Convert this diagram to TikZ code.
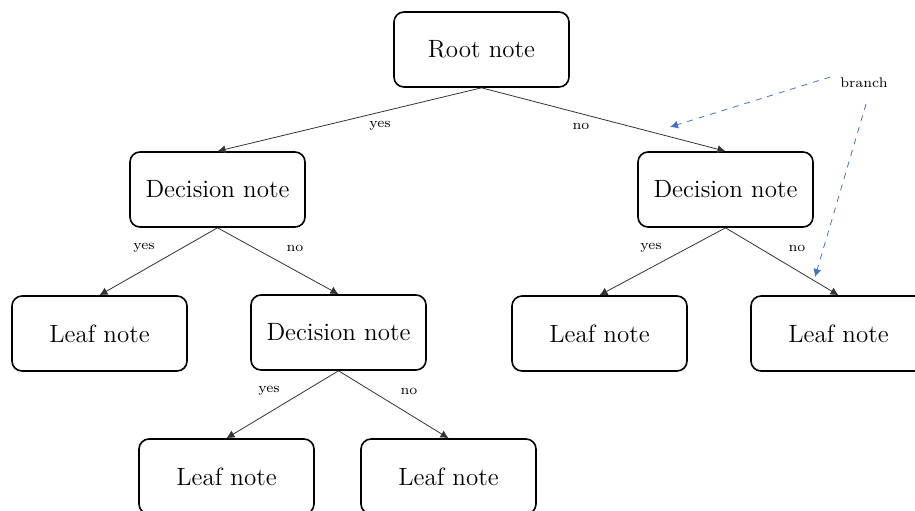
\documentclass[tikz,border=0pt]{standalone}
\usetikzlibrary{arrows.meta}
\definecolor{branchblue}{RGB}{68,114,196}
\tikzset{
  box/.style={draw, rounded corners=5pt, line width=0.8pt, minimum width=87.5pt, minimum height=37.5pt, font=\fontsize{12.5}{14}\selectfont},
  edge/.style={-{Latex[length=4pt,width=4pt]}, black!80},
  lbl/.style={font=\fontsize{7}{8}\selectfont},
  pointer/.style={dashed, -{Latex[length=4pt,width=4pt]}, branchblue, thin}
}
\begin{document}
\begin{tikzpicture}[x=0.5pt,y=-0.5pt]
\useasboundingbox (0,0) rectangle (915,510);
%nodes
\node[box] (root) at (481.5,49.5) {Root note};
\node[box] (decL) at (217.5,189.5) {Decision note};
\node[box] (decR) at (725.5,189.5) {Decision note};
\node[box] (leafA) at (99.5,333.5) {Leaf note};
\node[box] (decLL) at (338.5,332.5) {Decision note};
\node[box] (leafB) at (599.5,333.5) {Leaf note};
\node[box] (leafC) at (838.5,333.5) {Leaf note};
\node[box] (leafD) at (226.5,476.5) {Leaf note};
\node[box] (leafE) at (448.5,476.5) {Leaf note};

%edges
\draw[edge] (root.south) -- (decL.north);
\draw[edge] (root.south) -- (decR.north);
\draw[edge] (decL.south) -- (leafA.north);
\draw[edge] (decL.south) -- (decLL.north);
\draw[edge] (decR.south) -- (leafB.north);
\draw[edge] (decR.south) -- (leafC.north);
\draw[edge] (decLL.south) -- (leafD.north);
\draw[edge] (decLL.south) -- (leafE.north);

%labels
\node[lbl] (y1) at (380,126) {yes};
\node[lbl] (n1) at (581,126) {no};
\node[lbl] (y2) at (144,248) {yes};
\node[lbl] (n2) at (295,248) {no};
\node[lbl] (y3) at (651,248) {yes};
\node[lbl] (n3) at (797,248) {no};
\node[lbl] (y4) at (269,391) {yes};
\node[lbl] (n4) at (409,391) {no};

%branch pointers
\node[lbl] (branch) at (864,83) {branch};
\coordinate (tipA) at (670,127);
\coordinate (tipB) at (815,277);
\draw[pointer] ([xshift=-1.5pt,yshift=3pt]branch.west) -- (tipA);
\draw[pointer] ([xshift=1pt,yshift=-4.5pt]branch.south) -- (tipB);
\end{tikzpicture}
\end{document}
